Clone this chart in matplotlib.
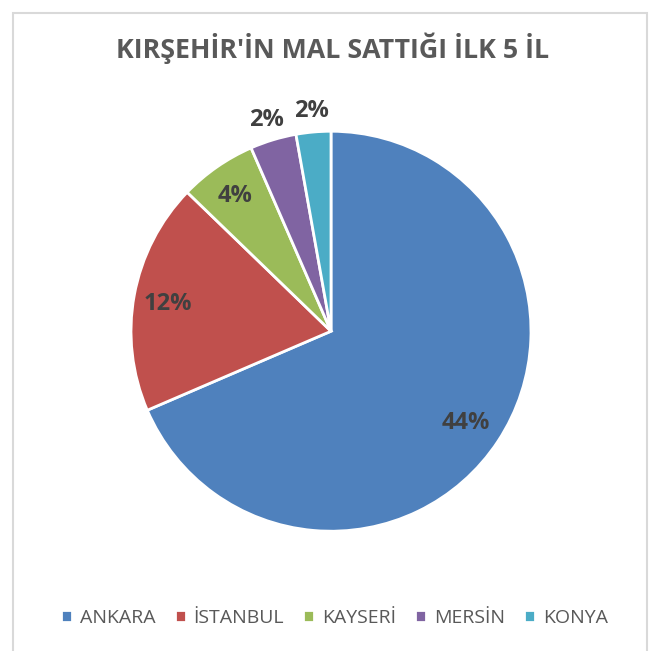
import matplotlib.pyplot as plt
from matplotlib.patches import Rectangle
import numpy as np

plt.rcParams['font.family'] = ['Open Sans', 'DejaVu Sans']

# data
cities = ["ANKARA", "İSTANBUL", "KAYSERİ", "MERSİN", "KONYA"]
values = [44, 12, 4, 2.4, 1.8]
labels = ["44%", "12%", "4%", "2%", "2%"]
colors = ["#4F81BD", "#C0504D", "#9BBB59", "#8064A2", "#4BACC6"]
label_dist = [0.81, 0.83, 0.84, 1.12, 1.12]

fig = plt.figure(figsize=(6.65, 6.51), dpi=100)

# light frame around the chart
fig.patches.append(Rectangle((13 / 665, -0.05), (647 - 13) / 665, 1.05 - 13 / 651,
                             transform=fig.transFigure, fill=False,
                             edgecolor="#D9D9D9", linewidth=1.5))

ax = fig.add_axes([0.197, 0.184, 0.6015, 0.6144])
wedges, _ = ax.pie(values, colors=colors, startangle=90, counterclock=False,
                   wedgeprops=dict(edgecolor="white", linewidth=2))
ax.set_xlim(-1, 1)
ax.set_ylim(-1, 1)
ax.set_aspect("equal")

for w, lab, d in zip(wedges, labels, label_dist):
    ang = np.deg2rad((w.theta1 + w.theta2) / 2)
    ax.text(d * np.cos(ang), d * np.sin(ang), lab, ha="center",
            va="center_baseline", fontsize=17, fontweight="bold", color="#404040")

fig.text(0.5, 1 - 48 / 651, "KIRŞEHİR'İN MAL SATTIĞI İLK 5 İL", ha="center",
         va="center", fontsize=19.3, fontweight="bold", color="#595959")

fig.legend(wedges, cities, loc="center", bbox_to_anchor=(0.503, 1 - 618 / 651),
           ncol=5, frameon=False, fontsize=14, labelcolor="#595959",
           handlelength=0.55, handleheight=0.55, handletextpad=0.4,
           columnspacing=1.0)

fig.savefig("out.png", dpi=100)
